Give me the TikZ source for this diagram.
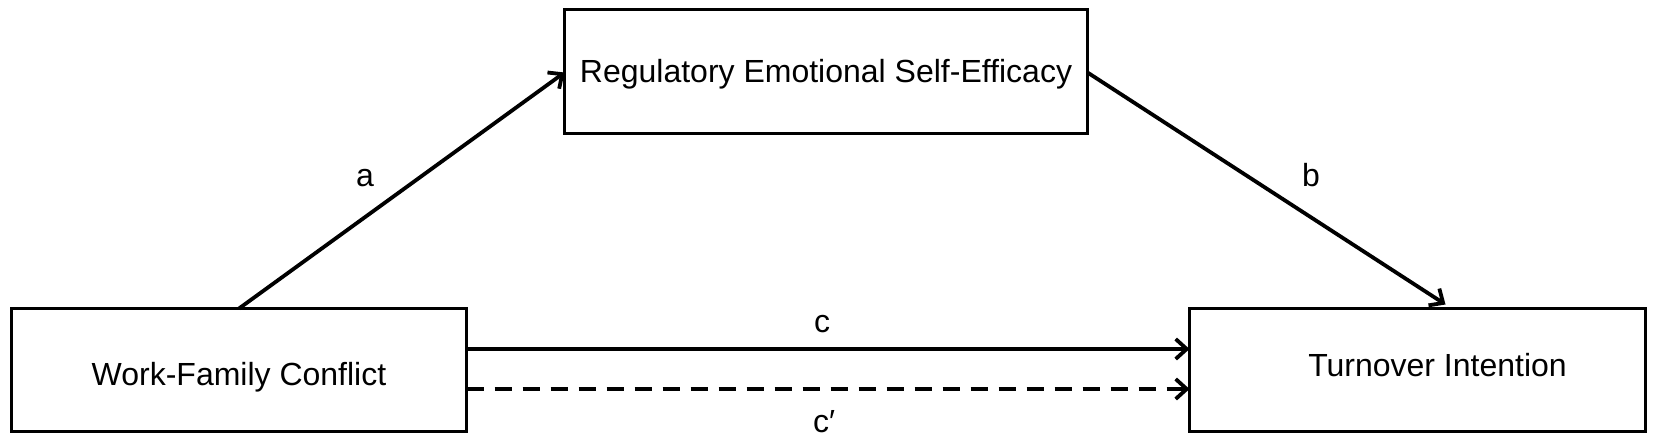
\documentclass[tikz,border=0pt]{standalone}
\usepackage{fontspec}
\setmainfont{Liberation Sans}
\usetikzlibrary{arrows.meta}
\begin{document}
\begin{tikzpicture}[x=1pt,y=-1pt,
  box/.style={draw=black,line width=2.2pt,inner sep=0pt,outer sep=0pt,text depth=0pt,
    font=\fontsize{32}{38}\selectfont},
  arr/.style={line width=3.8pt,-{Straight Barb[length=11pt,width=20pt,line width=3.8pt]}},
  lbl/.style={font=\fontsize{32}{38}\selectfont,inner sep=0pt,anchor=base}]
\useasboundingbox[fill=white] (0,0) rectangle (1654,443);
\node[box,minimum width=455pt,minimum height=123pt,text height=30pt] (wfc) at (239,370) {Work-Family Conflict};
\node[box,minimum width=523pt,minimum height=124pt,text height=23pt] (rese) at (826,71.5) {Regulatory Emotional Self-Efficacy};
\node[box,minimum width=456pt,minimum height=123pt,text height=14pt] (ti) at (1417.5,370) {\hspace*{40pt}Turnover Intention};
\draw[arr] (wfc.north) -- ([yshift=-1pt]rese.west);
\draw[arr] ([yshift=-1pt]rese.east) -- ([xshift=28pt,yshift=4pt]ti.north);
\draw[arr] ([yshift=21pt]wfc.east) -- ([yshift=21pt]ti.west);
\draw[arr,dash pattern=on 17pt off 11pt] ([yshift=-19pt]wfc.east) -- ([yshift=-19pt]ti.west);
\node[lbl] (la) at (365,187) {a};
\node[lbl] (lb) at (1311,187) {b};
\node[lbl] (lc) at (822,333) {c};
\node[lbl,anchor=base west] (lcp) at (813,432) {c′};
\end{tikzpicture}
\end{document}
